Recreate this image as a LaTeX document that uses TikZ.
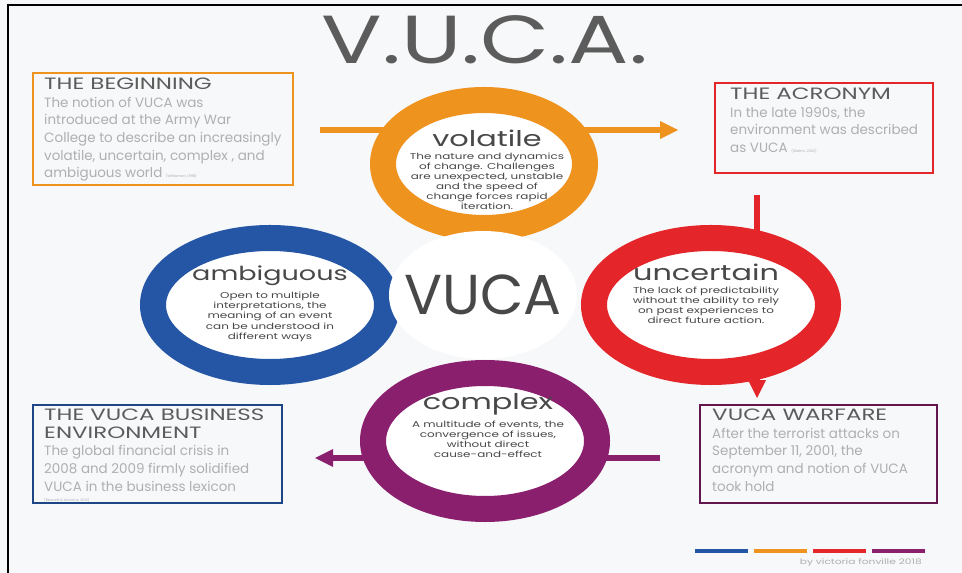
\documentclass[tikz,border=0pt]{standalone}
\usepackage{fontspec}
\usepackage{tikz}
\usetikzlibrary{shapes.geometric,positioning}
\setmainfont{Poppins}
\newfontfamily\widefont{Poppins}[FakeStretch=1.4]
\newfontfamily\titlefont{Poppins}[FakeStretch=1.32]
\newcommand{\boxheadfont}{\color{headgray}\widefont\fontsize{14}{15.5}\selectfont}

\definecolor{pagebg}{HTML}{F6F8F9}
\definecolor{vorange}{HTML}{EF931F}
\definecolor{vblue}{HTML}{2556A6}
\definecolor{vred}{HTML}{E4262B}
\definecolor{vpurple}{HTML}{8A1F6E}
\definecolor{headgray}{HTML}{5C5C5C}
\definecolor{bodygray}{HTML}{AFAFAF}
\definecolor{ringgray}{HTML}{484848}

\begin{document}
\begin{tikzpicture}[x=0.03cm, y=0.03cm,
  ring/.style={draw=#1, ellipse, fill=white, line width=0.78cm},
  ringtitle/.style={font=\widefont\fontsize{18.5}{20}\selectfont, text=ringgray},
  ringtext/.style={font=\widefont\fontsize{7.3}{8.6}\selectfont, text=ringgray, align=center},
  boxtext/.style={font=\fontsize{11.5}{15}\selectfont, text=bodygray, align=left, anchor=north west},
  infobox/.style={line width=2pt}]
\tikzstyle{every node}+=[inner sep=0pt]
\useasboundingbox (0,0) rectangle (962,-573);
\fill [pagebg] (0,0) rectangle (962,-573);
\draw [black, line width=2.5pt] (8,-573) -- (8,-5) -- (962,-5);

\node [font=\titlefont\fontsize{58}{60}\selectfont, text=headgray] (title) at (485,-40) {V.U.C.A.};

% arrows behind the rings
\coordinate (oastart) at (320,-130);
\coordinate (oaend) at (660,-130);
\draw [vorange, line width=5pt] (oastart) -- (oaend);
\fill [vorange] (oaend) -- ++(0,9) -- ++(18,-9) -- ++(-18,-9) -- cycle;
\coordinate (rastart) at (757,-195);
\coordinate (raend) at (757,-380);
\draw [vred, line width=5pt] (rastart) -- (raend);
\fill [vred] (raend) -- ++(9,0) -- ++(-9,-18) -- ++(-9,18) -- cycle;
\coordinate (pastart) at (660,-458);
\coordinate (paend) at (333,-458);
\draw [vpurple, line width=5pt] (pastart) -- (paend);
\fill [vpurple] (paend) -- ++(0,9) -- ++(-18,-9) -- ++(18,-9) -- cycle;

% the four rings and the middle
\node [ring=vblue, minimum width=7.02cm, minimum height=4.02cm] (amb) at (270,-305) {};
\node [ring=vred, minimum width=7.02cm, minimum height=4.02cm] (unc) at (711,-305) {};
\node [ring=vorange, minimum width=6.06cm, minimum height=3.84cm] (vol) at (484,-164) {};
\node [ring=vpurple, minimum width=6.72cm, minimum height=4.08cm] (cpx) at (485,-441) {};
\node [ellipse, fill=white, minimum width=5.64cm, minimum height=3.84cm] (vuca) at (483,-295) {};
\node [font=\fontsize{48}{50}\selectfont, text=ringgray] (vucatext) at (vuca.center) {VUCA};

\node [ringtitle] (voltitle) at (487,-138) {volatile};
\node [ringtext, below=5pt of voltitle] (voltext) {The nature and dynamics\\of change. Challenges\\are unexpected, unstable\\and the speed of\\change forces rapid\\iteration.};
\node [ringtitle, font=\widefont\fontsize{16.5}{18}\selectfont] (ambtitle) at (270,-276) {ambiguous};
\node [ringtext, below=5pt of ambtitle] (ambtext) {Open to multiple\\interpretations, the\\meaning of an event\\can be understood in\\different ways};
\node [ringtitle] (unctitle) at (706,-272) {uncertain};
\node [ringtext, below=5pt of unctitle] (unctext) {The lack of predictability\\without the ability to rely\\on past experiences to\\direct future action.};
\node [ringtitle] (cpxtitle) at (488,-404) {complex};
\node [ringtext, below=5pt of cpxtitle] (cpxtext) {A multitude of events, the\\convergence of issues,\\without direct\\cause-and-effect};

% side boxes
\draw [infobox, vorange] (33,-73) rectangle (293,-185);
\node [boxtext] (begin) at (44,-78) {{\boxheadfont THE BEGINNING}\\The notion of VUCA was\\introduced at the Army War\\College to describe an increasingly\\volatile, uncertain, complex , and\\ambiguous world {\fontsize{3}{4}\selectfont (Whiteman, 1998)}};
\draw [infobox, vred] (715,-83) rectangle (933,-173);
\node [boxtext] (acronym) at (730,-88) {{\boxheadfont THE ACRONYM}\\In the late 1990s, the\\environment was described\\as VUCA {\fontsize{3}{4}\selectfont (Stiehm, 2002)}};
\draw [infobox, vblue!80!black] (33,-405) rectangle (282,-503);
\node [boxtext] (business) at (44,-409) {{\boxheadfont THE VUCA BUSINESS}\\{\boxheadfont ENVIRONMENT}\\The global financial crisis in\\2008 and 2009 firmly solidified\\VUCA in the business lexicon\\[-6pt]{\fontsize{3}{4}\selectfont (Bennett \& Lemoine, 2014)}};
\draw [infobox, vpurple!70!black] (700,-405) rectangle (937,-503);
\node [boxtext] (warfare) at (712,-409) {{\boxheadfont VUCA WARFARE}\\After the terrorist attacks on\\September 11, 2001, the\\acronym and notion of VUCA\\took hold};

% colour key
\foreach \x/\c in {695/vblue, 754/vorange, 813/vred, 872/vpurple}
  \draw [\c, line width=3pt] (\x,-551) -- ++(53,0);
\node [font=\widefont\fontsize{6.5}{8}\selectfont, text=bodygray, anchor=east] (credit) at (922,-563) {by victoria fonville 2018};
\end{tikzpicture}
\end{document}
